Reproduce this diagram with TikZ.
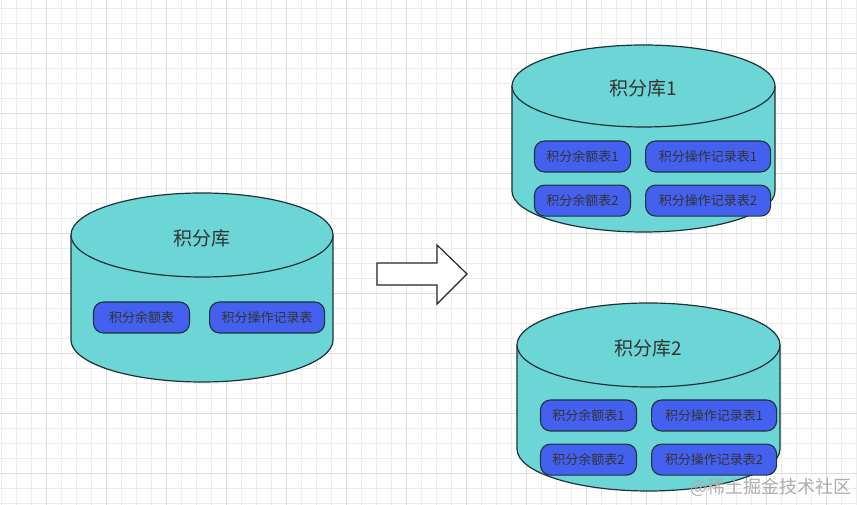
\documentclass[tikz,border=0pt]{standalone}
\usepackage{fontspec}
\usepackage{tikz}
\usetikzlibrary{calc, positioning}
\usepackage{xcolor}
\newfontfamily\cjk{Noto Sans CJK SC}
\definecolor{Turquoise}{RGB}{108, 213, 213}
\definecolor{TableBlue}{RGB}{67, 97, 238}
\definecolor{DarkLine}{RGB}{30, 50, 55}
\definecolor{TextGray}{RGB}{51, 51, 51}
\definecolor{GridMinor}{RGB}{236, 236, 236}
\definecolor{GridMajor}{RGB}{221, 221, 221}
\tikzset{%
  grid_minor/.style={%
    draw=GridMinor,%
    line width=0.8pt%
  },
  grid_major/.style={%
    draw=GridMajor,%
    line width=0.9pt%
  },
  db_body/.style={%
    fill=Turquoise,%
    draw=DarkLine,%
    line width=1.2pt,%
    line join=round%
  },
  db_title/.style={%
    font={\cjk\fontsize{19}{21}\selectfont},%
    text=TextGray,%
    inner sep=0pt%
  },
  table_block/.style={%
    rectangle,%
    rounded corners=10pt,%
    fill=TableBlue,%
    draw=DarkLine,%
    line width=1.1pt,%
    minimum height=31pt,%
    inner sep=0pt,%
    text=TextGray,%
    font={\cjk\fontsize{13}{15}\selectfont},%
    align=center%
  },
  short_block/.style={table_block, minimum width=96pt},
  long_block/.style={table_block, minimum width=120pt},
  big_arrow/.style={%
    fill=white,%
    draw=black!85,%
    line width=1.2pt,%
    line join=miter%
  },
  watermark/.style={%
    font={\cjk\fontsize{18}{20}\selectfont},%
    text=black!32%
  },
}
% cylinder: centre x, top y, bottom y, x radius, y radius
\newcommand{\dbcylinder}[5]{%
  \filldraw [db_body]
    ({#1-#4}, #2) -- ({#1-#4}, #3)
    arc [start angle=180, end angle=360, x radius=#4, y radius=#5]
    -- ({#1+#4}, #2) -- cycle;
  \filldraw [db_body] (#1, #2) ellipse [x radius=#4, y radius=#5];
}

\begin{document}
\begin{tikzpicture}[x=1pt, y=1pt]
    \useasboundingbox (0,0) rectangle (857,505);
    \fill [white] (0,0) rectangle (857,505);

    % background grid
    \foreach \gx in {1,16,...,856}
      \draw [grid_minor] (\gx,0) -- (\gx,505);
    \foreach \gy in {2,17,...,497}
      \draw [grid_minor] (0,\gy) -- (857,\gy);
    \foreach \gx in {46,106,...,826}
      \draw [grid_major] (\gx,0) -- (\gx,505);
    \foreach \gy in {32,92,...,452}
      \draw [grid_major] (0,\gy) -- (857,\gy);

    % old database
    \dbcylinder{202}{270}{165}{131}{42}
    \node [db_title] (DbOld) at (202,267) {积分库};
    \node [short_block] (OldBalance) at (141.5,187.5) {积分余额表};
    \node [long_block, minimum width=115pt, right=19pt of OldBalance]
      (OldRecord) {积分操作记录表};

    % split arrow
    \coordinate (ArrowTail) at (377,231);
    \coordinate (ArrowTip) at (467,231);
    \draw [big_arrow]
      ($(ArrowTail)+(0,11)$) -- (437,242) -- (437,260)
      -- (ArrowTip) -- (437,201) -- (437,220) -- ($(ArrowTail)+(0,-11)$)
      -- cycle;

    % first new database
    \dbcylinder{643.5}{419}{314}{131.5}{41}
    \node [db_title] (DbOne) at (643,417) {积分库1};
    \node [short_block] (OneBalanceA) at (582.5,348.5) {积分余额表1};
    \node [long_block, minimum width=125pt, right=14pt of OneBalanceA]
      (OneRecordA) {积分操作记录表1};
    \node [short_block, below=12pt of OneBalanceA] (OneBalanceB) {积分余额表2};
    \node [long_block, minimum width=125pt, right=14pt of OneBalanceB]
      (OneRecordB) {积分操作记录表2};

    % second new database
    \dbcylinder{648.5}{160}{56}{131.5}{42}
    \node [db_title] (DbTwo) at (648,157) {积分库2};
    \node [short_block] (TwoBalanceA) at (588.5,89.5) {积分余额表1};
    \node [long_block, minimum width=125pt, right=14pt of TwoBalanceA]
      (TwoRecordA) {积分操作记录表1};
    \node [short_block, below=12pt of TwoBalanceA] (TwoBalanceB) {积分余额表2};
    \node [long_block, minimum width=125pt, right=14pt of TwoBalanceB]
      (TwoRecordB) {积分操作记录表2};

    \node [watermark] (Mark) at (771,18) {@稀土掘金技术社区};
  \end{tikzpicture}
\end{document}
